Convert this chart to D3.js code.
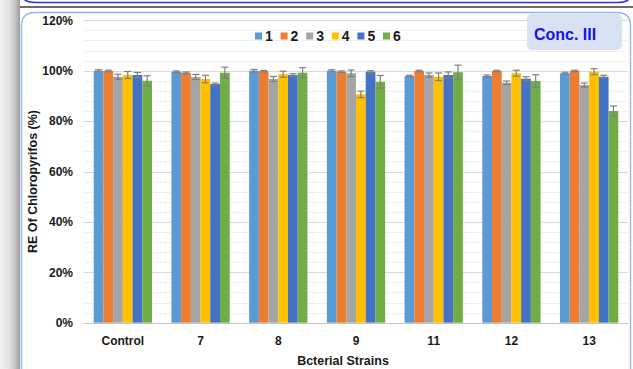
<!DOCTYPE html>
<html>
<head>
<meta charset="utf-8">
<script src="https://cdn.jsdelivr.net/npm/d3@7"></script>
<style>
  html, body { margin: 0; padding: 0; background: #fff; }
  svg { display: block; }
  text { font-family: "Liberation Sans Narrow", "Arial Narrow", "Liberation Sans", Arial, sans-serif; font-weight: bold; fill: #1a1a1a; }
</style>
</head>
<body>
<svg id="chart" width="633" height="369"></svg>
<script>
// Removal efficiency of chlorpyrifos per bacterial strain, six replicates
const categories = ["Control", "7", "8", "9", "11", "12", "13"];
const seriesNames = ["1", "2", "3", "4", "5", "6"];
const seriesColors = ["#5B9BD5", "#ED7D31", "#A5A5A5", "#FFC000", "#4472C4", "#70AD47"];

const values1 = [100.0, 99.6, 100.0, 100.0, 97.9, 97.9, 99.0];
const values2 = [99.9, 99.2, 99.8, 99.6, 99.9, 99.9, 99.9];
const values3 = [97.6, 97.5, 96.7, 99.0, 98.3, 95.2, 94.3];
const values4 = [98.3, 96.7, 98.6, 90.6, 97.6, 99.0, 99.6];
const values5 = [98.3, 94.7, 98.3, 99.6, 98.3, 96.8, 97.6];
const values6 = [96.0, 99.2, 99.2, 95.6, 99.4, 95.9, 84.0];

const errors1 = [0.4, 0.3, 0.5, 0.4, 0.3, 0.4, 0.4];
const errors2 = [0.3, 0.3, 0.3, 0.3, 0.3, 0.3, 0.3];
const errors3 = [1.0, 1.0, 1.0, 1.3, 0.8, 0.7, 0.8];
const errors4 = [1.4, 1.5, 1.2, 1.3, 1.5, 1.2, 1.2];
const errors5 = [1.0, 0.4, 0.5, 0.4, 1.2, 0.8, 0.6];
const errors6 = [2.0, 2.2, 2.0, 2.5, 2.8, 2.5, 2.0];

const yTicks = [0, 20, 40, 60, 80, 100, 120];
const yMinorStep = 4;

const allValues = [values1, values2, values3, values4, values5, values6];
const allErrors = [errors1, errors2, errors3, errors4, errors5, errors6];

const svg = d3.select("#chart");

// ---- page frame ----
const defs = svg.append("defs");
const grad = defs.append("linearGradient").attr("id", "sideStrip").attr("x1", 0).attr("x2", 1).attr("y1", 0).attr("y2", 0);
grad.append("stop").attr("offset", "0%").attr("stop-color", "#f2f2f2");
grad.append("stop").attr("offset", "45%").attr("stop-color", "#e4e4e4");
grad.append("stop").attr("offset", "75%").attr("stop-color", "#c6c6c6");
grad.append("stop").attr("offset", "92%").attr("stop-color", "#a8a8a8");
grad.append("stop").attr("offset", "100%").attr("stop-color", "#9a9a9a");
svg.append("rect").attr("x", 0).attr("y", 0).attr("width", 20).attr("height", 369).attr("fill", "url(#sideStrip)");

// bottom edge of the panel above
svg.append("path")
  .attr("d", "M24,-1 Q27,2.5 36,2.5 L618,2.5 Q626,2.5 629,-1")
  .attr("fill", "none").attr("stroke", "#2f2fe6").attr("stroke-width", 1.6);
svg.append("line").attr("x1", 20).attr("x2", 633).attr("y1", 7).attr("y2", 7)
  .attr("stroke", "#3a3a3a").attr("stroke-width", 1.3);

// current panel outline
svg.append("path")
  .attr("d", "M21.5,372 L21.5,26 Q21.5,12.5 35,12.5 L617,12.5 Q630.5,12.5 630.5,26 L630.5,372")
  .attr("fill", "none").attr("stroke", "#8fb9e3").attr("stroke-width", 1.4);

// ---- scales ----
const plot = { left: 84, right: 628, top: 20.3, bottom: 322.7 };

const x = d3.scaleBand().domain(categories).range([plot.left, plot.right]).paddingInner(0).paddingOuter(0);
const groupFrac = 0.75;
const xSub = d3.scaleBand().domain(seriesNames)
  .range([x.bandwidth() * (1 - groupFrac) / 2, x.bandwidth() * (1 + groupFrac) / 2])
  .padding(0);
const y = d3.scaleLinear().domain([0, 120]).range([plot.bottom, plot.top]);

// ---- gridlines ----
const minorTicks = d3.range(0, 120 + 0.001, yMinorStep).filter(v => !yTicks.includes(v));
svg.append("g").selectAll("line").data(minorTicks).join("line")
  .attr("x1", plot.left).attr("x2", plot.right)
  .attr("y1", d => Math.round(y(d)) + 0.5).attr("y2", d => Math.round(y(d)) + 0.5)
  .attr("stroke", "#efefef").attr("stroke-width", 1);

const yAxis = d3.axisLeft(y).tickValues(yTicks).tickFormat(d => d + "%").tickSize(0).tickPadding(11);
const yAxisG = svg.append("g").attr("transform", `translate(${plot.left},0)`).call(yAxis);
yAxisG.select(".domain").remove();
yAxisG.selectAll("text").attr("font-size", 12).style("font-family", null).style("font-weight", null).attr("fill", "#1a1a1a");

svg.append("g").selectAll("line").data(yTicks.filter(v => v > 0)).join("line")
  .attr("x1", plot.left).attr("x2", plot.right)
  .attr("y1", d => Math.round(y(d)) + 0.5).attr("y2", d => Math.round(y(d)) + 0.5)
  .attr("stroke", "#d9d9d9").attr("stroke-width", 1);

// ---- bars ----
const flat = [];
categories.forEach((c, ci) => {
  seriesNames.forEach((s, si) => {
    flat.push({ cat: c, series: s, si, value: allValues[si][ci], err: allErrors[si][ci] });
  });
});

svg.append("g").selectAll("rect").data(flat).join("rect")
  .attr("x", d => x(d.cat) + xSub(d.series))
  .attr("y", d => y(d.value))
  .attr("width", xSub.bandwidth())
  .attr("height", d => y(0) - y(d.value))
  .attr("fill", d => seriesColors[d.si]);

// ---- error bars ----
const eb = svg.append("g").attr("stroke", "#7f7f7f").attr("stroke-width", 1.2);
const cap = 3.5;
flat.forEach(d => {
  const cx = x(d.cat) + xSub(d.series) + xSub.bandwidth() / 2;
  const yHi = y(d.value + d.err), yLo = y(d.value - d.err);
  eb.append("line").attr("x1", cx).attr("x2", cx).attr("y1", yHi).attr("y2", yLo);
  eb.append("line").attr("x1", cx - cap).attr("x2", cx + cap).attr("y1", yHi).attr("y2", yHi);
  eb.append("line").attr("x1", cx - cap).attr("x2", cx + cap).attr("y1", yLo).attr("y2", yLo);
});

// ---- x axis ----
svg.append("line").attr("x1", plot.left).attr("x2", plot.right)
  .attr("y1", Math.round(y(0)) + 0.5).attr("y2", Math.round(y(0)) + 0.5)
  .attr("stroke", "#c4c4c4").attr("stroke-width", 1);

const xAxis = d3.axisBottom(x).tickSize(0).tickPadding(14);
const xAxisG = svg.append("g").attr("transform", `translate(0,${plot.bottom})`).call(xAxis);
xAxisG.select(".domain").remove();
xAxisG.selectAll("text").attr("font-size", 12).style("font-family", null).style("font-weight", null).attr("fill", "#1a1a1a");

// ---- axis titles ----
svg.append("text").attr("x", (plot.left + plot.right) / 2 - 13).attr("y", 365)
  .attr("text-anchor", "middle").attr("font-size", 12.5).text("Bcterial Strains");

svg.append("text")
  .attr("transform", `translate(37,${(plot.top + plot.bottom) / 2 + 10}) rotate(-90)`)
  .attr("text-anchor", "middle").attr("font-size", 12.5).text("RE Of Chloropyrifos (%)");

// ---- legend ----
const legend = svg.append("g").attr("transform", "translate(255,36)");
const legendStep = 25.6;
seriesNames.forEach((s, i) => {
  const g = legend.append("g").attr("transform", `translate(${i * legendStep},0)`);
  g.append("rect").attr("x", 0).attr("y", -3.5).attr("width", 7).attr("height", 7).attr("fill", seriesColors[i]);
  g.append("text").attr("x", 10).attr("y", 5).attr("font-size", 14).text(s);
});

// ---- concentration tag ----
svg.append("rect").attr("x", 527).attr("y", 14).attr("width", 95).attr("height", 36).attr("rx", 5)
  .attr("fill", "#d9e2f3");
svg.append("text").attr("x", 565).attr("y", 40).attr("text-anchor", "middle")
  .attr("font-size", 16).attr("fill", "#1414e8").style("fill", "#1414e8").text("Conc. III");
</script>
</body>
</html>
